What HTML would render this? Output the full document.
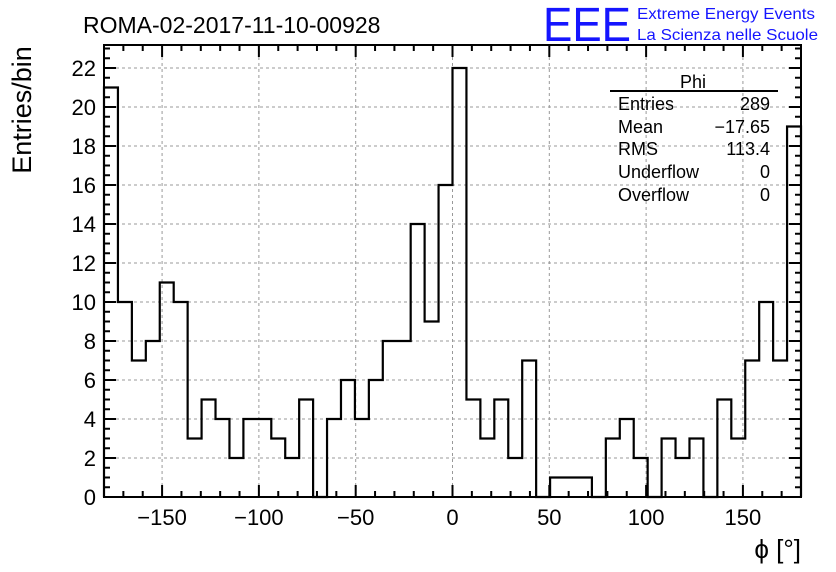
<!DOCTYPE html>
<html><head><meta charset="utf-8"><style>
body{margin:0;background:#fff;}
svg{display:block;font-family:"Liberation Sans",Arial,sans-serif;}
</style></head><body>
<svg id="c" width="836" height="572" viewBox="0 0 836 572">
<rect width="836" height="572" fill="#fff"/>
<g id="grid"></g>
<g id="ticks"></g>
<g id="labels" font-size="22" fill="#000"></g>
<path id="hist" fill="none" stroke="#000" stroke-width="2.2"/>
<rect x="104" y="45" width="697" height="452" fill="none" stroke="#000" stroke-width="2"/>
<text x="83" y="33" font-size="23">ROMA-02-2017-11-10-00928</text>
<text x="543" y="41" font-size="48" fill="#1515ff" textLength="88" lengthAdjust="spacingAndGlyphs">EEE</text>
<text x="637" y="19" font-size="16" fill="#1515ff" textLength="178" lengthAdjust="spacingAndGlyphs">Extreme Energy Events</text>
<text x="637" y="40" font-size="16" fill="#1515ff" textLength="181" lengthAdjust="spacingAndGlyphs">La Scienza nelle Scuole</text>
<text transform="translate(31,110) rotate(-90)" text-anchor="middle" font-size="27">Entries/bin</text>
<text x="801" y="558" text-anchor="end" font-size="26">ϕ [°]</text>
<g font-size="18">
<text x="693" y="88" text-anchor="middle">Phi</text>
<line x1="610" y1="91" x2="778" y2="91" stroke="#000" stroke-width="2"/>
<text x="618" y="110">Entries</text><text x="770" y="110" text-anchor="end">289</text>
<text x="618" y="133">Mean</text><text x="770" y="133" text-anchor="end">−17.65</text>
<text x="618" y="155">RMS</text><text x="770" y="155" text-anchor="end">113.4</text>
<text x="618" y="178">Underflow</text><text x="770" y="178" text-anchor="end">0</text>
<text x="618" y="201">Overflow</text><text x="770" y="201" text-anchor="end">0</text>
</g>
</svg>
<script>
const counts=[21,10,7,8,11,10,3,5,4,2,4,4,3,2,5,0,4,6,4,6,8,8,14,9,16,22,5,3,5,2,7,0,1,1,1,0,3,4,2,0,3,2,3,0,5,3,7,10,7,19];
const xTicks=[-150,-100,-50,0,50,100,150];
const yTicks=[0,2,4,6,8,10,12,14,16,18,20,22];
const xMin=-180,xMax=180,yMax=23.18;
const L=104,R=801,T=45,B=497;
const sx=v=>L+(v-xMin)/(xMax-xMin)*(R-L);
const sy=v=>B-v/yMax*(B-T);
const NS="http://www.w3.org/2000/svg";
function mk(tag,parent,attrs){const e=document.createElementNS(NS,tag);for(const k in attrs)e.setAttribute(k,attrs[k]);parent.appendChild(e);return e;}
const grid=document.getElementById('grid'),ticks=document.getElementById('ticks'),labels=document.getElementById('labels');
xTicks.forEach(v=>{const l=mk('line',grid,{x1:sx(v),x2:sx(v),y1:T,y2:B,stroke:'#999','stroke-dasharray':'3,3','stroke-width':1});


const t=mk('text',labels,{x:sx(v),y:B+28,'text-anchor':'middle'});t.textContent=(v<0?'−':'')+Math.abs(v);

});
yTicks.forEach(v=>{if(v>0){const l=mk('line',grid,{x1:L,x2:R,y1:sy(v),y2:sy(v),stroke:'#999','stroke-dasharray':'3,3','stroke-width':1});

}
const t=mk('text',labels,{x:L-8,y:sy(v)+8,'text-anchor':'end'});t.textContent=v;

});
let td='';
for(let v=-180;v<=180;v+=10){const len=v%50===0?12:6;const x=sx(v);td+=`M${x},${B}V${B-len}M${x},${T}V${T+len}`;}
for(let v=0;v<=23;v+=0.5){const len=Number.isInteger(v/2)?12:6;const y=sy(v);td+=`M${L},${y}H${L+len}M${R},${y}H${R-len}`;}
mk('path',ticks,{d:td,stroke:'#000','stroke-width':2,fill:'none'});
const w=(xMax-xMin)/counts.length;
let d=`M${sx(xMin)},${sy(0)}`;
counts.forEach((c,i)=>{d+=`V${sy(c)}H${sx(xMin+(i+1)*w)}`;});
d+=`V${sy(0)}`;
document.getElementById('hist').setAttribute('d',d);
</script>
</body></html>
